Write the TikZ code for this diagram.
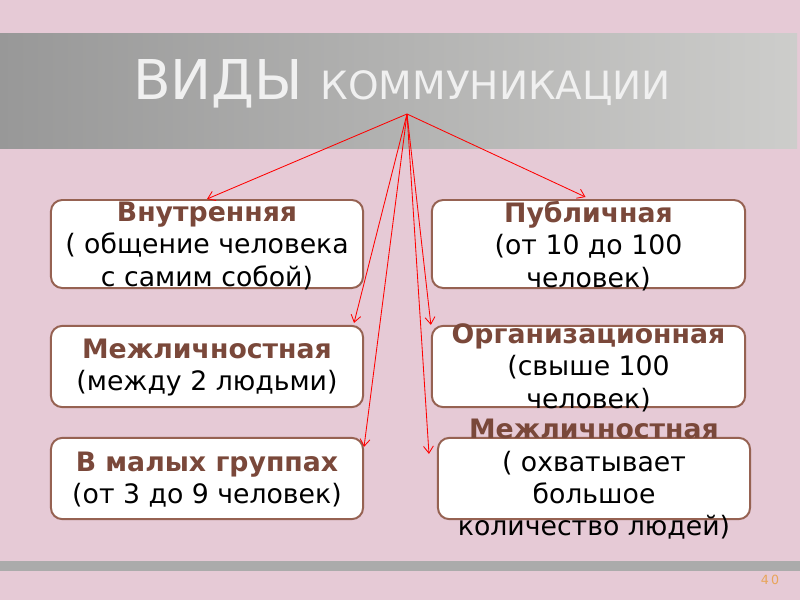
\documentclass[tikz,border=0pt]{standalone}
\usepackage{fontspec}
\setmainfont{DejaVu Sans}
\usetikzlibrary{arrows.meta}
\usetikzlibrary{calc}
\definecolor{pinkbg}{RGB}{230,202,214}
\definecolor{bandleft}{RGB}{152,152,152}
\definecolor{bandright}{RGB}{205,205,203}
\definecolor{cardline}{RGB}{150,98,82}
\definecolor{headbrown}{RGB}{122,72,58}
\definecolor{pagenum}{RGB}{232,165,90}
\newcommand{\hd}[1]{{\bfseries\color{headbrown}#1}}
\begin{document}
\begin{tikzpicture}[x=0.025cm,y=-0.025cm,
  card/.style={draw=cardline,line width=1.4pt,fill=white,rounded corners=8pt,
    inner sep=0pt,minimum width=7.8cm,minimum height=#1},
  cardtext/.style={align=center,font=\fontsize{19}{23}\selectfont,inner sep=0pt},
  link/.style={draw=red,line width=0.6pt,-{Straight Barb[length=5pt,width=7pt]}}]
\fill[pinkbg] (0,0) rectangle (800,600);
\useasboundingbox (0,0) rectangle (800,600);
\shade[left color=bandleft,right color=bandright] (0,33) rectangle (797,148);
\fill[black!33] (0,561) rectangle (800,571);
\node[anchor=base west,text=white!94!black,inner sep=0pt] (title) at (133,99)
  {{\fontsize{39}{47}\selectfont ВИДЫ\ }{\fontsize{27.7}{33}\selectfont КОММУНИКАЦИИ}};
\coordinate (hub) at (407,114);

\node[card=2.2cm] (intr) at (207,244) {};
\node[cardtext] at ($(intr)+(0,2)$) {\hd{Внутренняя}\\( общение человека\\с самим собой)};
\node[card=2.2cm,minimum width=7.83cm] (pub) at (588.5,244) {};
\node[cardtext] at ($(pub)+(0,2)$) {\hd{Публичная}\\(от 10 до 100\\человек)};
\node[card=2.03cm] (mezh) at (207,366.5) {};
\node[cardtext] at ($(mezh)+(0,1)$) {\hd{Межличностная}\\(между 2 людьми)};
\node[card=2.03cm,minimum width=7.83cm] (org) at (588.5,366.5) {};
\node[cardtext] at ($(org)+(0,1)$) {\hd{Организационная}\\(свыше 100\\человек)};
\node[card=2.03cm] (small) at (207,478.5) {};
\node[cardtext] at ($(small)+(0,1)$) {\hd{В малых группах}\\(от 3 до 9 человек)};
\node[card=2.03cm] (mass) at (594,478.5) {};
\node[cardtext] at ($(mass)+(0,1)$) {\hd{Межличностная}\\( охватывает\\большое\\количество людей)};

\draw[link] (hub) -- (intr.north);
\draw[link] (hub) -- ($(pub.north)+(-3,-2)$);
\draw[link] (hub) -- ($(mezh.north east)+(-10,-2)$);
\draw[link] (hub) -- (org.north west);
\draw[link] (hub) -- ($(small.north east)+(0,10)$);
\draw[link] (hub) -- ($(mass.north west)+(-8,17)$);

\node[text=pagenum,font=\fontsize{9}{10}\selectfont] (page) at (770,580) {4\,0};
\end{tikzpicture}
\end{document}
